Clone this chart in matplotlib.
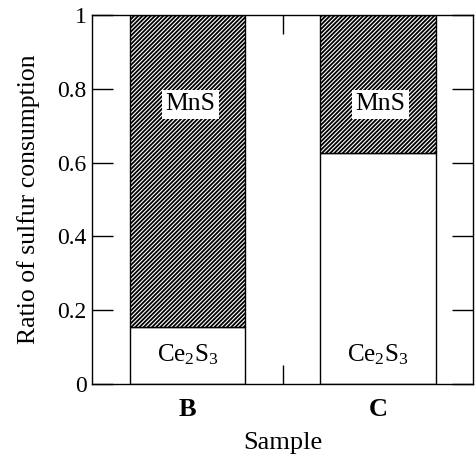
import matplotlib
matplotlib.use("Agg")
import matplotlib.pyplot as plt
from matplotlib.ticker import FuncFormatter

samples = ["B", "C"]
ce2s3 = [0.155, 0.627]
mns = [0.845, 0.373]
yticks = [0, 0.2, 0.4, 0.6, 0.8, 1]

plt.rcParams['font.family'] = ['Liberation Serif', 'DejaVu Serif']
plt.rcParams['mathtext.fontset'] = 'custom'
plt.rcParams['mathtext.rm'] = 'Liberation Serif'
plt.rcParams['mathtext.it'] = 'Liberation Serif:italic'
plt.rcParams['mathtext.bf'] = 'Liberation Serif:bold'
plt.rcParams['hatch.linewidth'] = 1.3

fig = plt.figure(figsize=(4.77, 4.57), dpi=100)
ax = fig.add_axes([0.193, 0.16, 0.799, 0.807])

x = [1, 2]
w = 0.607
ax.bar(x, ce2s3, width=w, color='white', edgecolor='black', linewidth=1.0)
ax.bar(x, mns, width=w, bottom=ce2s3, color='white', edgecolor='black',
       linewidth=1.0, hatch='////////')

for xi, c, m in zip(x, ce2s3, mns):
    ax.text(xi, 0.08, r'Ce$_\mathrm{2}$S$_\mathrm{3}$', ha='center', va='center', fontsize=18)
    ax.text(xi + 0.015, 0.758, 'MnS', ha='center', va='center', fontsize=18.5,
            bbox=dict(facecolor='white', edgecolor='none', pad=2.5))

ax.set_xlim(0.5, 2.5)
ax.set_ylim(0, 1)
ax.set_xticks(x)
ax.set_xticklabels(samples, fontweight='bold', fontsize=19)
ax.set_xticks([1.5], minor=True)
ax.tick_params(axis='x', which='major', length=0, pad=10)
ax.tick_params(axis='x', which='minor', direction='in', length=14, top=True, bottom=True, width=1)
ax.set_yticks(yticks)
ax.yaxis.set_major_formatter(FuncFormatter(lambda v, p: f"{v:g}"))
ax.tick_params(axis='y', which='major', direction='in', length=15, left=True, right=True,
               labelsize=17, pad=4, width=1)
ax.set_xlabel('Sample', fontsize=19, labelpad=8)
ax.set_ylabel('Ratio of sulfur consumption', fontsize=18.5, labelpad=12)
for s in ax.spines.values():
    s.set_linewidth(1.0)

fig.savefig('out.png', dpi=100)
